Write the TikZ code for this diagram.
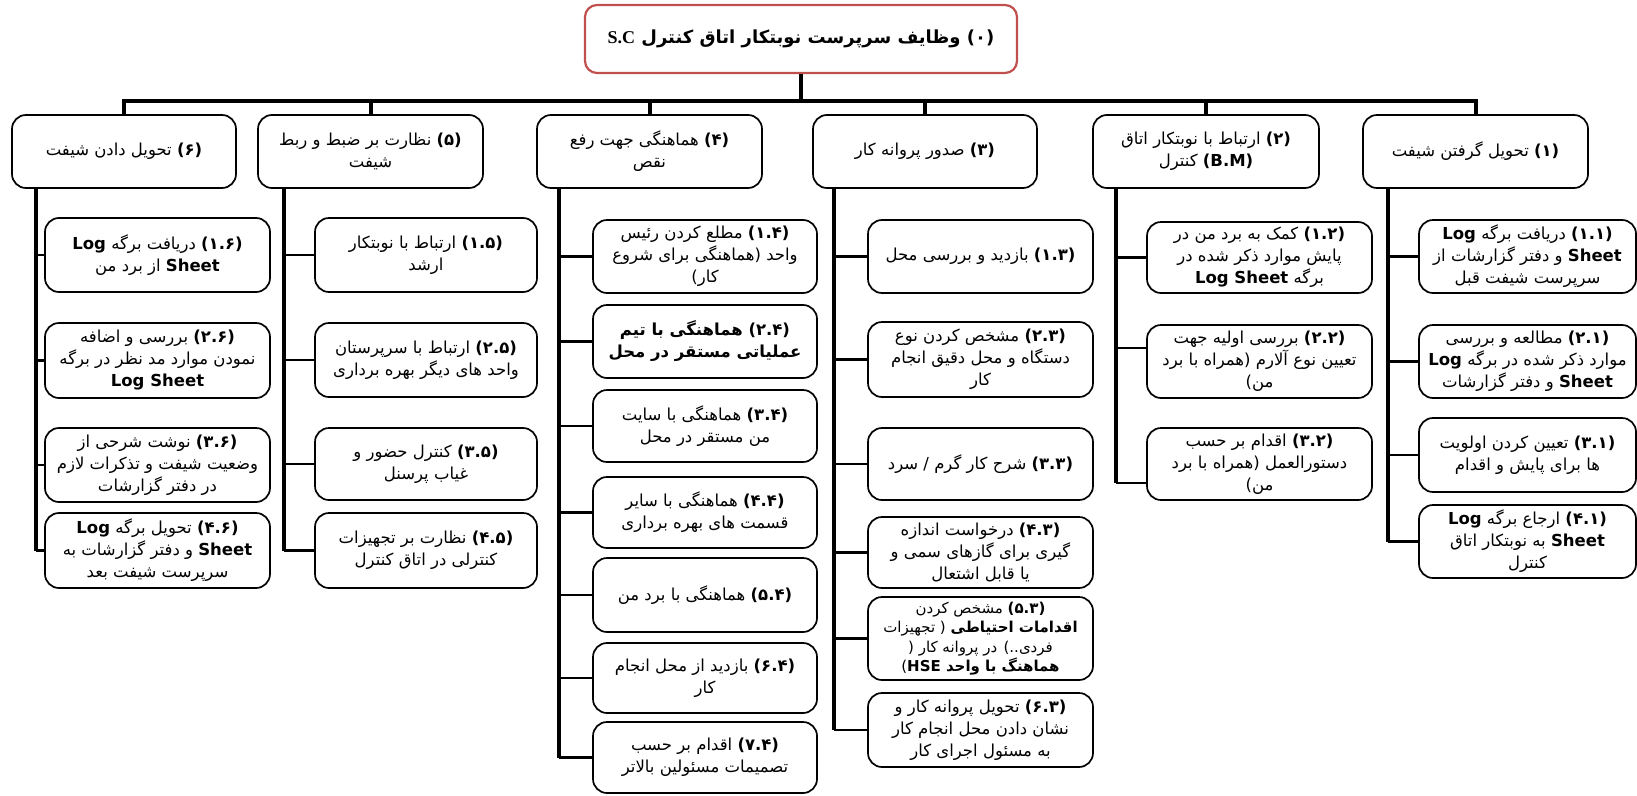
\documentclass[tikz,border=0pt]{standalone}
\usepackage{fontspec}
\setmainfont{DejaVu Sans}
\newfontfamily\fa[Script=Arabic]{DejaVu Sans}
\newfontfamily\tnr{Liberation Serif}
\TeXXeTstate=1
\newcommand\RL[1]{\beginR#1\endR}
\newcommand\LRt[1]{\beginL#1\endL{}}
\newcommand\nm[1]{\textbf{#1}}
\definecolor{tred}{RGB}{192,80,77}
\newcommand\bx[6]{\node[box, minimum width={(#3)-(#2)}, minimum height={(#5)-(#4)}] (#1) at ({((#2)+(#3))/2},{((#4)+(#5))/2}) {#6};}
\tikzset{
  box/.style={draw=black, line width=1.7pt, rounded corners=14pt, fill=white, align=center, inner sep=1pt, font=\fa\fontsize{16.5}{22}\selectfont},
  titlebox/.style={draw=tred, line width=2.2pt, rounded corners=12pt, fill=white, align=center, font=\fa\bfseries\fontsize{18}{22}\selectfont},
  bus/.style={line width=4pt},
  trunk/.style={line width=3.8pt},
  branch/.style={line width=2.4pt}
}
\begin{document}
\begin{tikzpicture}[x=1pt,y=-1pt]
\useasboundingbox (0,0) rectangle (1637,795);
% title
\node[titlebox, minimum width=432pt, minimum height=68pt] (title) at (801,39) {\RL{(۰) وظایف سرپرست نوبتکار اتاق کنترل {\tnr\bfseries S.C}}};
% categories
\bx{c1}{1363}{1588}{115}{188}{\RL{\nm{(۱)} تحویل گرفتن شیفت}}
\bx{c2}{1093}{1319}{115}{188}{\RL{\nm{(۲)} ارتباط با نوبتکار اتاق}\\\RL{\nm{(B.M)} کنترل}}
\bx{c3}{813}{1037}{115}{188}{\RL{\nm{(۳)} صدور پروانه کار}}
\bx{c4}{537}{762}{115}{188}{\RL{\nm{(۴)} هماهنگی جهت رفع}\\\RL{نقص}}
\bx{c5}{258}{483}{115}{188}{\RL{\nm{(۵)} نظارت بر ضبط و ربط}\\\RL{شیفت}}
\bx{c6}{12}{236}{115}{188}{\RL{\nm{(۶)} تحویل دادن شیفت}}
% bus
\coordinate (hub) at ([yshift=-27pt]title.south);
\draw[bus] (title.south) -- (hub);
\draw[bus] (c6.north) -- (c6.north |- hub) -- (c1.north |- hub) -- (c1.north);
\foreach \c in {c2,c3,c4,c5} \draw[bus] (\c.north |- hub) -- (\c.north);
% column 1
\bx{c11}{1419}{1636}{220}{293}{\RL{\nm{(۱.۱)} دریافت برگه \nm{Log}}\\\RL{\nm{Sheet} و دفتر گزارشات از}\\\RL{سرپرست شیفت قبل}}
\bx{c21}{1419}{1636}{325}{398}{\RL{\nm{(۲.۱)} مطالعه و بررسی}\\\RL{موارد ذکر شده در برگه \nm{Log}}\\\RL{\nm{Sheet} و دفتر گزارشات}}
\bx{c31}{1419}{1636}{418}{492}{\RL{\nm{(۳.۱)} تعیین کردن اولویت}\\\RL{ها برای پایش و اقدام}}
\bx{c41}{1419}{1636}{505}{578}{\RL{\nm{(۴.۱)} ارجاع برگه \nm{Log}}\\\RL{\nm{Sheet} به نوبتکار اتاق}\\\RL{کنترل}}
% column 2
\bx{c12}{1147}{1372}{222}{293}{\RL{\nm{(۱.۲)} کمک به برد من در}\\\RL{پایش موارد ذکر شده در}\\\RL{برگه \LRt{\nm{Log Sheet}}}}
\bx{c22}{1147}{1372}{325}{398}{\RL{\nm{(۲.۲)} بررسی اولیه جهت}\\\RL{تعیین نوع آلارم (همراه با برد}\\\RL{من)}}
\bx{c32}{1147}{1372}{428}{500}{\RL{\nm{(۳.۲)} اقدام بر حسب}\\\RL{دستورالعمل (همراه با برد}\\\RL{من)}}
% column 3
\bx{c13}{868}{1093}{220}{293}{\RL{\nm{(۱.۳)} بازدید و بررسی محل}}
\bx{c23}{868}{1093}{322}{397}{\RL{\nm{(۲.۳)} مشخص کردن نوع}\\\RL{دستگاه و محل دقیق انجام}\\\RL{کار}}
\bx{c33}{868}{1093}{428}{500}{\RL{\nm{(۳.۳)} شرح کار گرم / سرد}}
\bx{c43}{868}{1093}{517}{588}{\RL{\nm{(۴.۳)} درخواست اندازه}\\\RL{گیری برای گازهای سمی و}\\\RL{یا قابل اشتعال}}
\node[box, font=\fa\fontsize{15}{19.5}\selectfont, minimum width=225pt, minimum height=83pt] (c53) at (980.5,638.5) {\RL{\nm{(۵.۳)} مشخص کردن}\\\RL{\nm{اقدامات احتیاطی} ( تجهیزات}\\\RL{فردی..)  در پروانه کار (}\\\RL{\nm{هماهنگ با واحد HSE})}};
\bx{c63}{868}{1093}{693}{767}{\RL{\nm{(۶.۳)} تحویل پروانه کار و}\\\RL{نشان دادن محل انجام کار}\\\RL{به مسئول اجرای کار}}
% column 4
\bx{c14}{593}{817}{220}{293}{\RL{\nm{(۱.۴)} مطلع کردن رئیس}\\\RL{واحد (هماهنگی برای شروع}\\\RL{کار)}}
\bx{c24}{593}{817}{305}{378}{\RL{\nm{(۲.۴) هماهنگی با تیم}}\\\RL{\nm{عملیاتی مستقر در محل}}}
\bx{c34}{593}{817}{390}{462}{\RL{\nm{(۳.۴)} هماهنگی با سایت}\\\RL{من مستقر در محل}}
\bx{c44}{593}{817}{477}{548}{\RL{\nm{(۴.۴)} هماهنگی با سایر}\\\RL{قسمت های بهره برداری}}
\bx{c54}{593}{817}{558}{632}{\RL{\nm{(۵.۴)} هماهنگی با برد من}}
\bx{c64}{593}{817}{643}{713}{\RL{\nm{(۶.۴)} بازدید از محل انجام}\\\RL{کار}}
\bx{c74}{593}{817}{722}{793}{\RL{\nm{(۷.۴)} اقدام بر حسب}\\\RL{تصمیمات مسئولین بالاتر}}
% column 5
\bx{c15}{315}{537}{218}{292}{\RL{\nm{(۱.۵)} ارتباط با نوبتکار}\\\RL{ارشد}}
\bx{c25}{315}{537}{323}{397}{\RL{\nm{(۲.۵)} ارتباط با سرپرستان}\\\RL{واحد های دیگر بهره برداری}}
\bx{c35}{315}{537}{428}{500}{\RL{\nm{(۳.۵)} کنترل حضور و}\\\RL{غیاب پرسنل}}
\bx{c45}{315}{537}{513}{588}{\RL{\nm{(۴.۵)} نظارت بر تجهیزات}\\\RL{کنترلی در اتاق کنترل}}
% column 6
\bx{c16}{45}{270}{218}{292}{\RL{\nm{(۱.۶)} دریافت برگه \nm{Log}}\\\RL{\nm{Sheet} از برد من}}
\bx{c26}{45}{270}{323}{398}{\RL{\nm{(۲.۶)} بررسی و اضافه}\\\RL{نمودن موارد مد نظر در برگه}\\\LRt{\nm{Log Sheet}}}
\bx{c36}{45}{270}{428}{502}{\RL{\nm{(۳.۶)} نوشت شرحی از}\\\RL{وضعیت شیفت و تذکرات لازم}\\\RL{در دفتر گزارشات}}
\bx{c46}{45}{270}{513}{588}{\RL{\nm{(۴.۶)} تحویل برگه \nm{Log}}\\\RL{\nm{Sheet} و دفتر گزارشات به}\\\RL{سرپرست شیفت بعد}}
% trunks
\coordinate (t1) at ([xshift=26pt]c1.south west);
\coordinate (t2) at ([xshift=24pt]c2.south west);
\coordinate (t3) at ([xshift=22pt]c3.south west);
\coordinate (t4) at ([xshift=23pt]c4.south west);
\coordinate (t5) at ([xshift=27pt]c5.south west);
\coordinate (t6) at ([xshift=25pt]c6.south west);
\coordinate (b22) at ([yshift=13.5pt]c22.west);
\coordinate (b32) at ([yshift=-19pt]c32.west);
\draw[trunk] (t1) -- (t1 |- c41.west);
\draw[trunk] (t2) -- (t2 |- b32);
\draw[trunk] (t3) -- (t3 |- c63.west);
\draw[trunk] (t4) -- (t4 |- c74.west);
\draw[trunk] (t5) -- (t5 |- c45.west);
\draw[trunk] (t6) -- (t6 |- c46.west);
% branches
\foreach \b in {c11,c21,c31,c41} \draw[branch] (t1 |- \b.west) -- (\b.west);
\draw[branch] (t2 |- c12.west) -- (c12.west);
\draw[branch] (t2 |- b22) -- (b22);
\draw[branch] (t2 |- b32) -- (b32);
\foreach \b in {c13,c23,c33,c43,c53,c63} \draw[branch] (t3 |- \b.west) -- (\b.west);
\foreach \b in {c14,c24,c34,c44,c54,c64,c74} \draw[branch] (t4 |- \b.west) -- (\b.west);
\foreach \b in {c15,c25,c35,c45} \draw[branch] (t5 |- \b.west) -- (\b.west);
\foreach \b in {c16,c26,c36,c46} \draw[branch] (t6 |- \b.west) -- (\b.west);
\end{tikzpicture}
\end{document}
